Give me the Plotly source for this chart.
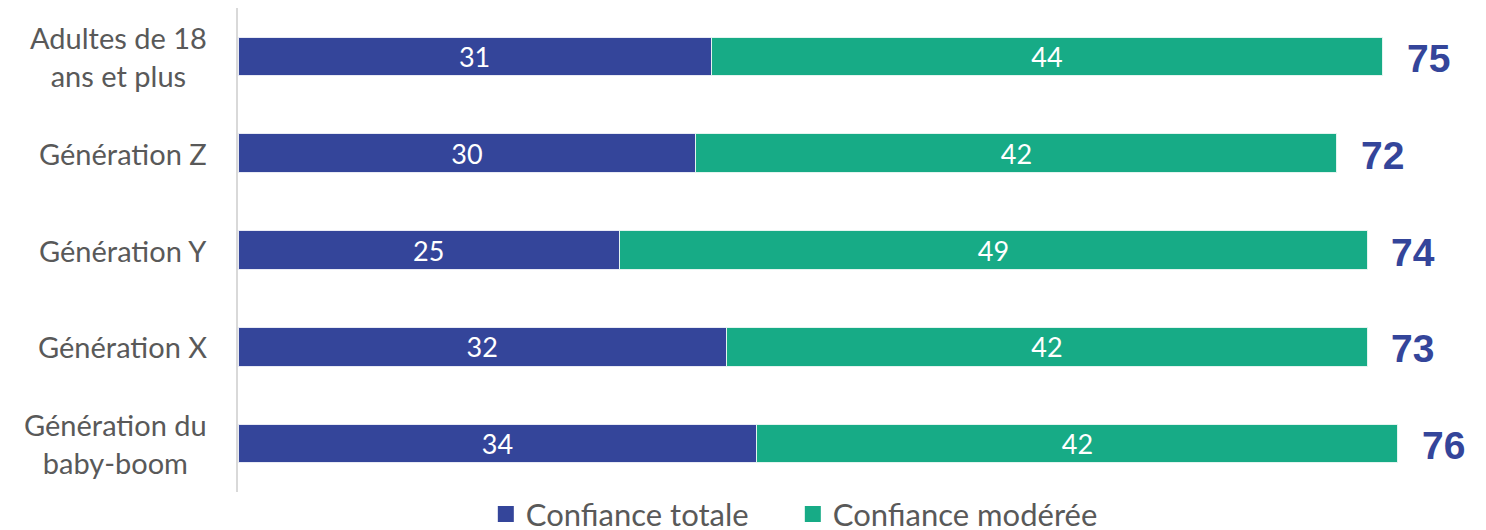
import plotly.graph_objects as go

categories = ["Adultes de 18<br>ans et plus", "Génération Z", "Génération Y", "Génération X", "Génération du<br>baby-boom"]
confiance_totale = [31, 30, 25, 32, 34]
confiance_moderee = [44, 42, 49, 42, 42]
totaux = [75, 72, 74, 73, 76]

BLUE = "#34459A"
GREEN = "#17AB86"
FONT = "Lato"

fig = go.Figure()
fig.add_trace(go.Bar(
    y=categories, x=confiance_totale, orientation="h", name="Confiance totale",
    marker=dict(color=BLUE, line=dict(color="#E8EAF4", width=1)),
    text=confiance_totale, textposition="inside", insidetextanchor="middle",
    textangle=0, constraintext="none",
    textfont=dict(color="white", size=27, family=FONT), width=0.4,
    showlegend=False,
))
fig.add_trace(go.Bar(
    y=categories, x=confiance_moderee, orientation="h", name="Confiance modérée",
    marker=dict(color=GREEN, line=dict(color="#E3F4EF", width=1)),
    text=confiance_moderee, textposition="inside", insidetextanchor="middle",
    textangle=0, constraintext="none",
    textfont=dict(color="white", size=27, family=FONT), width=0.4,
    showlegend=False,
))
# legend entries with larger square symbols
for name, col in [("Confiance totale", BLUE), ("Confiance modérée", GREEN)]:
    fig.add_trace(go.Scatter(x=[None], y=[None], mode="markers", name=name,
                             marker=dict(symbol="square", size=17, color=col)))

for c, a, b, t in zip(categories, confiance_totale, confiance_moderee, totaux):
    fig.add_annotation(x=a + b, y=c, text=f"<b>{t}</b>", showarrow=False,
                       xanchor="left", xshift=22, yshift=-2,
                       font=dict(color=BLUE, size=39, family="Liberation Sans"))
    fig.add_annotation(x=0, xref="paper", y=c, text=c, showarrow=False,
                       xanchor="right", xshift=-29, align="center",
                       font=dict(color="#595959", size=29, family=FONT))

fig.update_layout(
    width=1478, height=522,
    margin=dict(l=230, r=27, t=0, b=38, autoexpand=False),
    barmode="stack", bargap=0.6,
    plot_bgcolor="white", paper_bgcolor="white",
    font=dict(family=FONT, color="#595959"),
    showlegend=True,
    legend=dict(orientation="h", xref="container", yref="container",
                x=0.531, y=0.03, xanchor="center", yanchor="middle",
                font=dict(size=31, color="#595959", family=FONT),
                itemwidth=30, entrywidth=262, traceorder="normal"),
    xaxis=dict(range=[0, 80], visible=False),
    yaxis=dict(autorange="reversed", showticklabels=False, showline=True,
               linecolor="#D9D9D9", linewidth=2, ticks="", showgrid=False),
)

fig.write_html("out.html")
